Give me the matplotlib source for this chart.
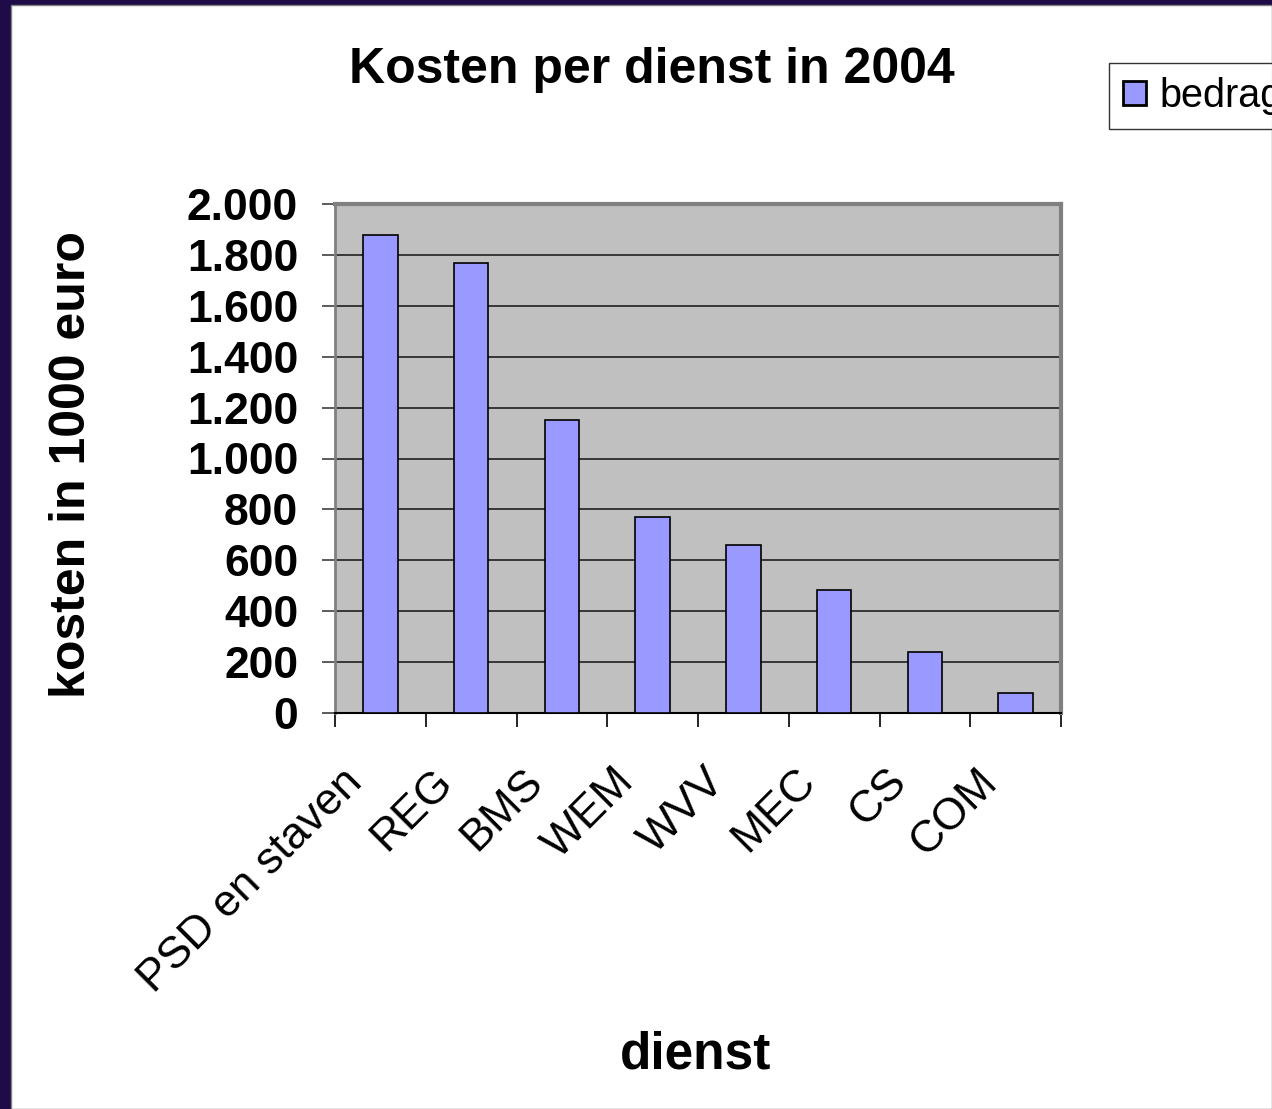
import matplotlib
matplotlib.use("Agg")
import matplotlib.pyplot as plt
from matplotlib.patches import Rectangle, Patch
from matplotlib.transforms import ScaledTranslation
import numpy as np

categories = ["PSD en staven", "REG", "BMS", "WEM", "WVV", "MEC", "CS", "COM"]
bedrag = [1880, 1770, 1150, 770, 660, 485, 240, 80]
yticks = [0, 200, 400, 600, 800, 1000, 1200, 1400, 1600, 1800, 2000]
ytick_labels = ["0", "200", "400", "600", "800", "1.000", "1.200", "1.400", "1.600", "1.800", "2.000"]

plt.rcParams['font.family'] = ['Liberation Sans', 'DejaVu Sans']

W, H = 1272, 1109
fig = plt.figure(figsize=(W / 100, H / 100), dpi=100)
fig.patch.set_facecolor('#1e0b48')
fig.add_artist(Rectangle((11 / W, 0), 1 - 11 / W, 1 - 5 / H, transform=fig.transFigure,
                         facecolor='white', edgecolor='#808080', linewidth=1, zorder=0))

ax = fig.add_axes([335 / W, 1 - 713 / H, (1061 - 335) / W, (713 - 204) / H])
ax.set_facecolor('#c0c0c0')
x = np.arange(len(categories))
ax.bar(x, bedrag, width=0.38, color='#9999ff', edgecolor='black', linewidth=1.2, zorder=3)
ax.set_xlim(-0.5, len(categories) - 0.5)
ax.set_ylim(0, 2000)
ax.set_yticks(yticks)
ax.set_yticklabels(ytick_labels, fontsize=32, fontweight='bold')
ax.yaxis.grid(True, color='#202020', linewidth=1.2, zorder=1)
ax.set_axisbelow(True)
ax.tick_params(axis='y', length=9.5, width=1.2, color='#404040', pad=17)

ax.set_xticks(np.arange(len(categories) + 1) - 0.5, minor=False)
ax.set_xticklabels([])
ax.tick_params(axis='x', length=10, width=1.2, color='black', which='major')
ax.set_xticks(x, minor=True)
ax.set_xticklabels(categories, minor=True, fontsize=32, rotation=45, ha='right', va='center',
                   rotation_mode='anchor')
ax.tick_params(axis='x', which='minor', length=0, pad=45)
offset = ScaledTranslation(-25 / 100, 0, fig.dpi_scale_trans)
for lbl in ax.get_xticklabels(minor=True):
    lbl.set_transform(lbl.get_transform() + offset)

for s in ['top', 'right']:
    ax.spines[s].set_color('#808080')
    ax.spines[s].set_linewidth(3)
ax.spines['left'].set_color('#808080')
ax.spines['left'].set_linewidth(2)
ax.spines['bottom'].set_color('black')
ax.spines['bottom'].set_linewidth(1.5)

fig.text(652 / W, 1 - 70 / H, "Kosten per dienst in 2004", fontsize=36, fontweight='bold',
         ha='center', va='center')
fig.text(72 / W, 1 - 465 / H, "kosten in 1000 euro", fontsize=36, fontweight='bold',
         ha='center', va='center', rotation=90)
fig.text(696 / W, 1 - 1055 / H, "dienst", fontsize=37, fontweight='bold',
         ha='center', va='center')

handle = Patch(facecolor='#9999ff', edgecolor='black', linewidth=2)
leg = fig.legend([handle], ["bedrag"], loc='upper left', bbox_to_anchor=(1109 / W, 1 - 63 / H),
                 fontsize=28.5, frameon=True, fancybox=False, edgecolor='black',
                 handlelength=0.58, handleheight=0.58, handletextpad=0.35, borderpad=0.35,
                 borderaxespad=0)
leg.get_frame().set_linewidth(1)

fig.savefig("out.png", dpi=100)
